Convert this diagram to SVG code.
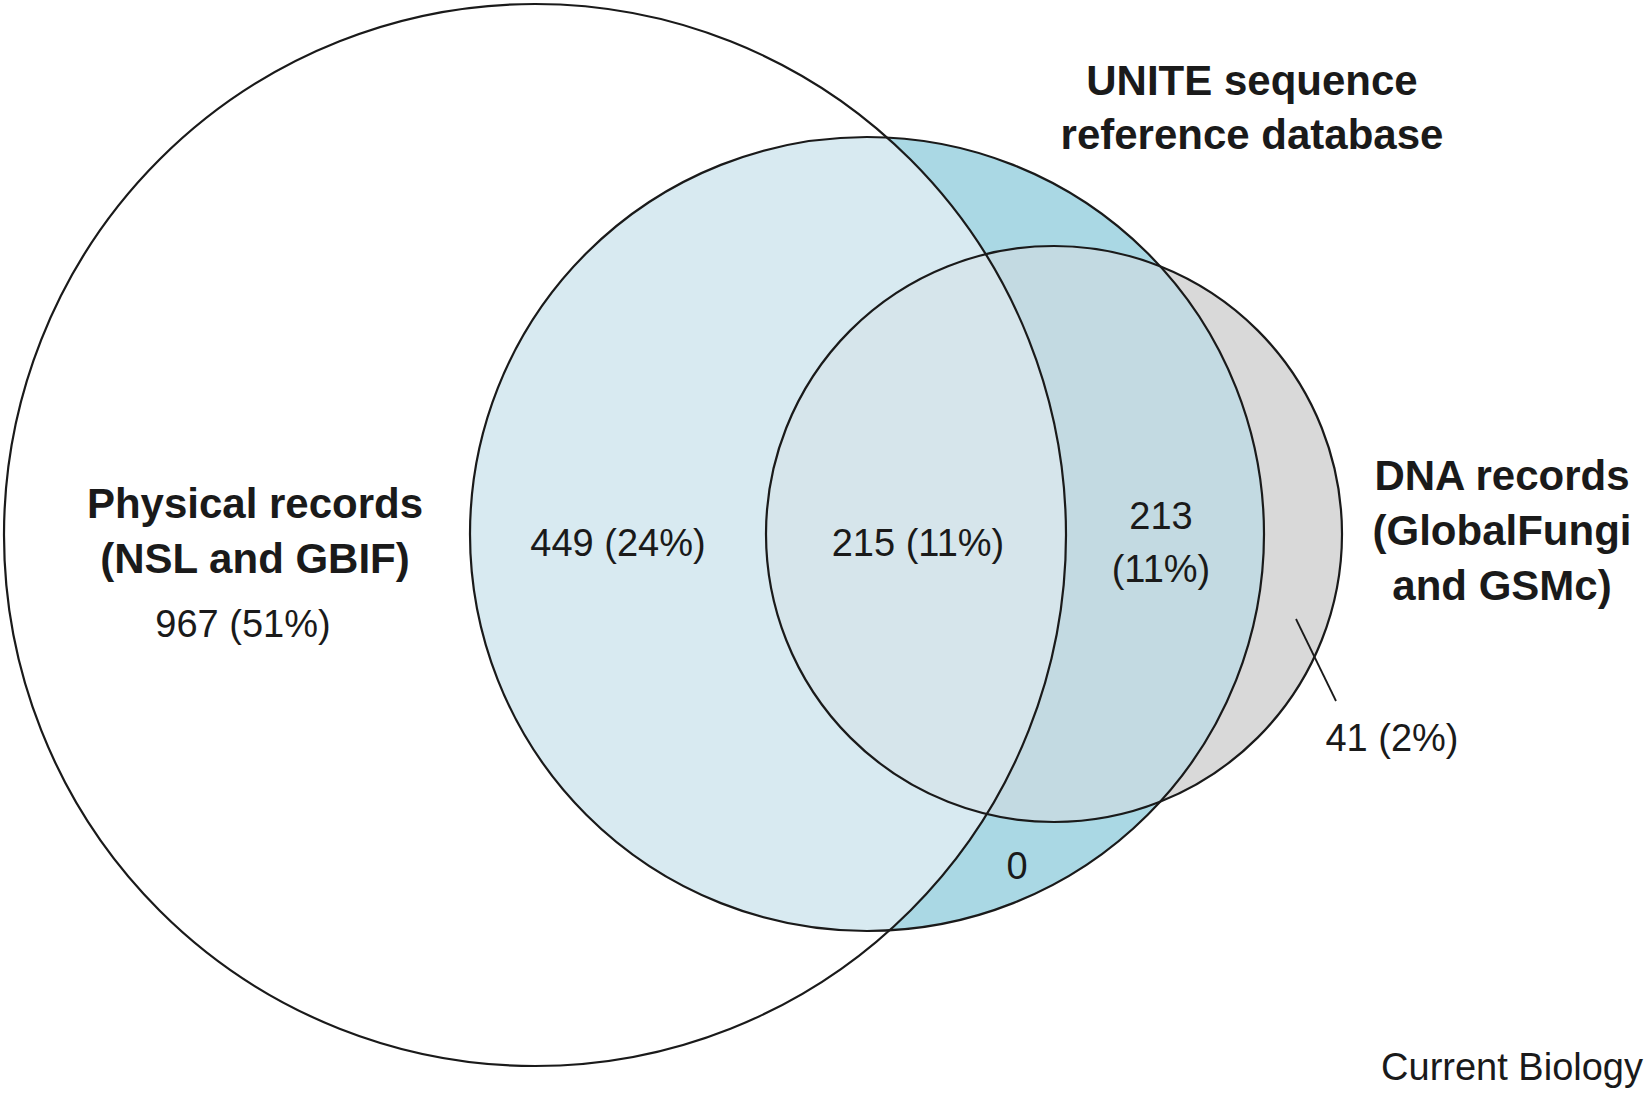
<svg xmlns="http://www.w3.org/2000/svg" width="1650" height="1096" viewBox="0 0 1650 1096">
<defs>
<style>
.o{fill:none;stroke:#1a1a1a;stroke-width:2.2}
.b{font-family:"Liberation Sans",Arial,sans-serif;font-weight:bold;font-size:42px;fill:#1a1a1a;text-anchor:middle}
.r{font-family:"Liberation Sans",Arial,sans-serif;font-size:38px;fill:#1a1a1a;text-anchor:middle}
</style>
<clipPath id="cP"><circle cx="535" cy="535" r="531"/></clipPath>
<clipPath id="cU"><circle cx="867" cy="534" r="397"/></clipPath>
</defs>
<rect width="1650" height="1096" fill="#fff"/>
<g id="fills">
<circle cx="867" cy="534" r="397" fill="#aad8e4"/>
<circle cx="1054" cy="534" r="288" fill="#d9d9d9"/>
<circle cx="1054" cy="534" r="288" fill="#c3dae2" clip-path="url(#cU)"/>
<g clip-path="url(#cP)">
<circle cx="867" cy="534" r="397" fill="#d8eaf1"/>
<circle cx="1054" cy="534" r="288" fill="#d6e5eb" clip-path="url(#cU)"/>
</g>
</g>
<g id="physical"><circle class="o" cx="535" cy="535" r="531"/>
<text class="b" x="255" y="518">Physical records</text><text class="b" x="255" y="573">(NSL and GBIF)</text>
<text class="r" x="243" y="637">967 (51%)</text></g>
<g id="unite"><circle class="o" cx="867" cy="534" r="397"/>
<text class="b" x="1252" y="95">UNITE sequence</text><text class="b" x="1252" y="149">reference database</text></g>
<g id="dna"><circle class="o" cx="1054" cy="534" r="288"/>
<text class="b" x="1502" y="490">DNA records</text><text class="b" x="1502" y="545">(GlobalFungi</text><text class="b" x="1502" y="600">and GSMc)</text></g>
<g id="labels">
<text class="r" x="618" y="556">449 (24%)</text>
<text class="r" x="918" y="556">215 (11%)</text>
<text class="r" x="1161" y="529">213</text><text class="r" x="1161" y="582">(11%)</text>
<text class="r" x="1017" y="879">0</text>
<text class="r" x="1392" y="751">41 (2%)</text>
<text class="r" x="1643" y="1080" style="text-anchor:end">Current Biology</text>
</g>
<g id="connectors"><line x1="1296" y1="619" x2="1336" y2="701" stroke="#1a1a1a" stroke-width="1.8"/></g>
</svg>
